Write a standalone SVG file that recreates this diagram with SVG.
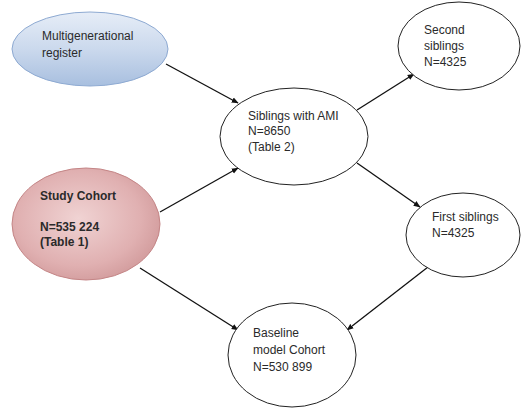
<svg xmlns="http://www.w3.org/2000/svg" width="522" height="409" viewBox="0 0 522 409">
<defs>
<linearGradient id="gBlue" x1="0" y1="0" x2="0" y2="1">
<stop offset="0" stop-color="#e6edf7"/>
<stop offset="0.5" stop-color="#cbd9ed"/>
<stop offset="1" stop-color="#a8bfdf"/>
</linearGradient>
<radialGradient id="gPink" cx="0.45" cy="0.45" r="0.6">
<stop offset="0" stop-color="#f0d3d3"/>
<stop offset="0.7" stop-color="#e0b0b1"/>
<stop offset="1" stop-color="#d19a9b"/>
</radialGradient>
<marker id="arr" viewBox="0 0 10 10" refX="9" refY="5" markerWidth="7" markerHeight="7" orient="auto" markerUnits="userSpaceOnUse">
<path d="M0,1 L10,5 L0,9 z" fill="#111"/>
</marker>
</defs>
<style>
.n{fill:#fff;stroke:#222;stroke-width:1}
.t{font-family:"Liberation Sans",Arial,sans-serif;font-size:12px;fill:#2a2a2a}
.b{font-weight:bold}
.c{stroke:#111;stroke-width:1.3;fill:none;marker-end:url(#arr)}
</style>
<rect width="522" height="409" fill="#fff"/>
<g id="connectors">
<line class="c" x1="166" y1="64" x2="238" y2="103"/>
<line class="c" x1="160" y1="212" x2="238" y2="168"/>
<line class="c" x1="357" y1="110" x2="414" y2="74"/>
<line class="c" x1="357" y1="163" x2="420" y2="207"/>
<line class="c" x1="140" y1="268" x2="238" y2="330"/>
<line class="c" x1="428" y1="267" x2="347" y2="330"/>
</g>
<g id="multigenerational">
<ellipse cx="90" cy="49" rx="78" ry="37" fill="url(#gBlue)" stroke="#8eaad2" stroke-width="1"/>
<text class="t" x="42" y="40">Multigenerational</text>
<text class="t" x="42" y="57">register</text>
</g>
<g id="study">
<ellipse cx="86" cy="224" rx="74" ry="56" fill="url(#gPink)" stroke="#c48586" stroke-width="1"/>
<text class="t b" x="40" y="200">Study Cohort</text>
<text class="t b" x="40" y="231">N=535 224</text>
<text class="t b" x="40" y="246">(Table 1)</text>
</g>
<g id="siblings">
<ellipse class="n" cx="294" cy="136.5" rx="74" ry="48.5"/>
<text class="t" x="248" y="120">Siblings with AMI</text>
<text class="t" x="248" y="135">N=8650</text>
<text class="t" x="248" y="151">(Table 2)</text>
</g>
<g id="second">
<ellipse class="n" cx="459" cy="46" rx="61" ry="44"/>
<text class="t" x="424" y="34">Second</text>
<text class="t" x="424" y="50">siblings</text>
<text class="t" x="424" y="66">N=4325</text>
</g>
<g id="first">
<ellipse class="n" cx="463" cy="235" rx="57" ry="42"/>
<text class="t" x="432" y="221">First siblings</text>
<text class="t" x="432" y="237">N=4325</text>
</g>
<g id="baseline">
<ellipse class="n" cx="292" cy="355" rx="64" ry="52"/>
<text class="t" x="253" y="337">Baseline</text>
<text class="t" x="253" y="354">model Cohort</text>
<text class="t" x="253" y="371">N=530 899</text>
</g>
</svg>
